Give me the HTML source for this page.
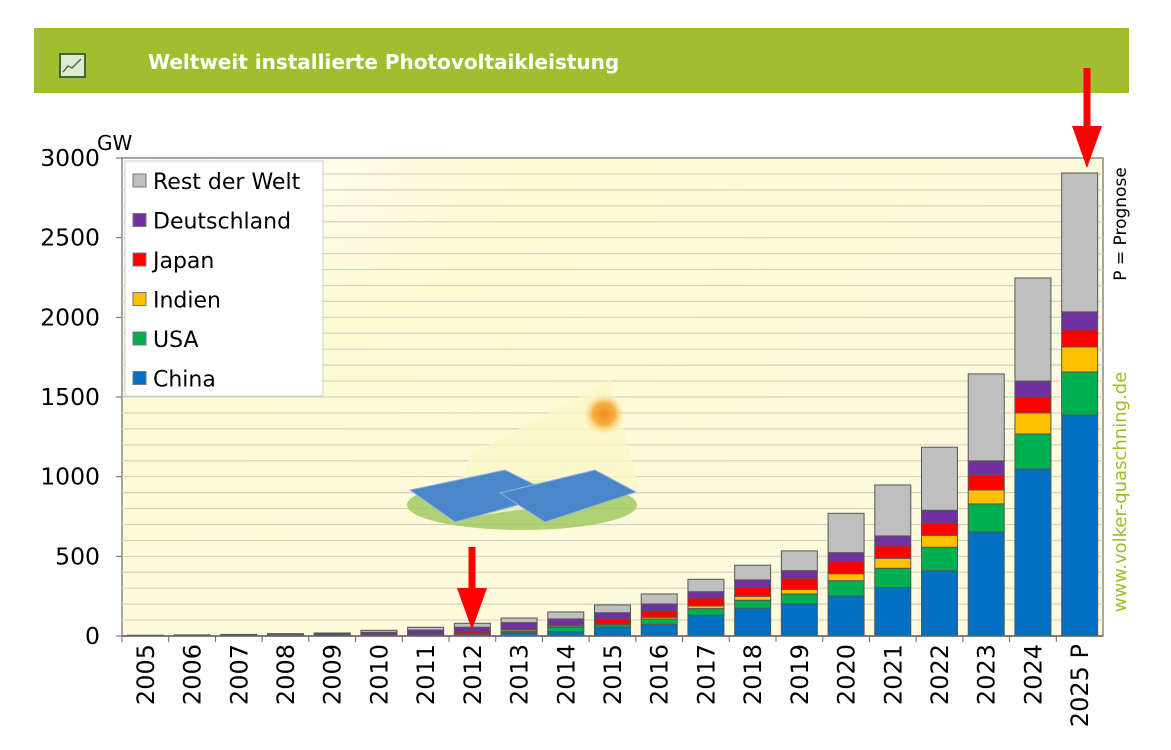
<!DOCTYPE html>
<html><head><meta charset="utf-8"><style>
body{margin:0;background:#fff;width:1171px;height:750px;overflow:hidden;font-family:"DejaVu Sans","Liberation Sans",sans-serif}
#hdr{position:absolute;left:34px;top:28px;width:1095px;height:65px;background:#a3bd31}
#hdr .t{position:absolute;left:114px;top:22px;color:#fff;font-weight:bold;font-size:20px}
#hdr .ic{position:absolute;left:25px;top:25px;width:23px;height:21px;border:2px solid #3b6b2b;background:#dfead0}
</style></head><body>
<div id="hdr">
<div class="ic"><svg width="23" height="21"><polyline points="2,17 7,11 11,13 20,4" fill="none" stroke="#4a7a3a" stroke-width="1.5"/></svg></div>
<div class="t">Weltweit installierte Photovoltaikleistung</div>
</div>
<svg id="chart" width="1171" height="750" style="position:absolute;left:0;top:0;font-family:'DejaVu Sans','Liberation Sans',sans-serif">
<defs>
<radialGradient id="bg" cx="0" cy="0" r="1.2">
<stop offset="0" stop-color="#ffffff"/><stop offset="0.35" stop-color="#fdfbd2"/><stop offset="1" stop-color="#fefbe0"/></radialGradient>
<radialGradient id="sun"><stop offset="0" stop-color="#f08a20"/><stop offset="0.5" stop-color="#f6b040"/><stop offset="1" stop-color="#fff4c0" stop-opacity="0"/></radialGradient>
</defs>
<g id="plot"></g>
</svg>
<script>
const years=["2005","2006","2007","2008","2009","2010","2011","2012","2013","2014","2015","2016","2017","2018","2019","2020","2021","2022","2023","2024","2025 P"];
const china=[0,0,0,0,1,1,3,8,23,28,55,73,130,175,203,251,305,410,653,1048,1387];
const usa=[0,0,0,0,1,2,3,4,8,27,14,34,42,49,61,96,120,147,176,220,270];
const indien=[0,0,0,0,0,0,1,1,9,8,4,11,17,25,29,44,63,75,88,132,157];
const japan=[1,1,2,2,3,4,6,12,4,6,33,41,50,57,70,76,77,76,94,100,107];
const deutschland=[2,3,4,6,10,16,24,30,40,38,40,42,39,46,47,56,63,81,88,100,113];
const rest=[2,3,4,7,4,13,18,25,29,44,49,63,78,92,124,247,320,396,546,647,872];
const yTicks=[0,500,1000,1500,2000,2500,3000];
const series=[["China",china,"#0070c0"],["USA",usa,"#00b050"],["Indien",indien,"#ffc000"],["Japan",japan,"#ff0000"],["Deutschland",deutschland,"#7030a0"],["Rest der Welt",rest,"#bfbfbf"]];
const NS="http://www.w3.org/2000/svg";
const L=122,R=1103,T=158,B=636,YMAX=3000;
const y=v=>B-v*(B-T)/YMAX;
const band=(R-L)/years.length;
const xc=i=>L+band*(i+0.5);
const g=document.getElementById('plot');
function mk(tag,a,p){const e=document.createElementNS(NS,tag);for(const k in a)e.setAttribute(k,a[k]);(p||g).appendChild(e);return e;}
let e=mk('rect',{x:L,y:T,width:R-L,height:B-T,fill:'url(#bg)',stroke:'#888','stroke-width':1.5});

for(let v=100;v<YMAX;v+=100){e=mk('line',{x1:L,x2:R,y1:y(v),y2:y(v),stroke:'#d4d2c0','stroke-width':1.2});
}
e=mk('ellipse',{cx:522,cy:505,rx:115,ry:25,fill:'#9cc85a',opacity:0.8});
e=mk('polygon',{points:'450,520 640,492 610,380 470,455',fill:'#fbf7c8',opacity:0.8});
e=mk('circle',{cx:604,cy:414,r:22,fill:'url(#sun)'});
e=mk('polygon',{points:'410,490 505,470 555,495 455,522',fill:'#4a86c8',stroke:'#8ab4e0'});
e=mk('polygon',{points:'500,493 595,470 636,492 545,522',fill:'#4a86c8',stroke:'#8ab4e0'});
const bw=36;
years.forEach((yr,i)=>{let cum=0;series.forEach(s=>{const v=s[1][i];if(v>0){
const r=mk('rect',{x:xc(i)-bw/2,y:y(cum+v),width:bw,height:y(cum)-y(cum+v),fill:s[2],stroke:'#555','stroke-width':1});

}cum+=v;});});
e=mk('line',{x1:L,x2:R,y1:B,y2:B,stroke:'#666','stroke-width':1.5});
yTicks.forEach(v=>{const t=mk('text',{x:100,y:y(v)+8,'text-anchor':'end','font-size':23.5,fill:'#000'});t.textContent=v;

const tk=mk('line',{x1:L-6,x2:L,y1:y(v),y2:y(v),stroke:'#666'});});
years.forEach((yr,i)=>{const tk=mk('line',{x1:L+band*i,x2:L+band*i,y1:B,y2:B+6,stroke:'#666'});
const t=mk('text',{x:0,y:0,'text-anchor':'end','font-size':24,fill:'#000',transform:`translate(${xc(i)+8.5},${644}) rotate(-90)`});t.textContent=yr;
});
e=mk('text',{x:97,y:150,'font-size':20});e.textContent='GW';
e=mk('rect',{x:125,y:161,width:198,height:235,fill:'#fff',stroke:'#ccc'});
series.slice().reverse().forEach((s,k)=>{const yy=181+k*39.5;
const sw=mk('rect',{x:133,y:yy-7,width:13,height:13,fill:s[2],stroke:'#777'});
const t=mk('text',{x:153,y:yy+8,'font-size':22});t.textContent=s[0];});
e=mk('text',{x:0,y:0,'font-size':17,'text-anchor':'middle',transform:'translate(1126,224) rotate(-90)'});e.textContent='P = Prognose';
e=mk('text',{x:0,y:0,'font-size':18,fill:'#9cbd2a','text-anchor':'middle',transform:'translate(1126,492) rotate(-90)'});e.textContent='www.volker-quaschning.de';
function arrow(x,y1,y2,name){const a=mk('g',{});
mk('rect',{x:x-3.5,y:y1,width:7,height:y2-y1-40,fill:'#f00'},a);
mk('polygon',{points:`${x-15},${y2-42} ${x+15},${y2-42} ${x},${y2}`,fill:'#f00'},a);}
arrow(472,547,630,'arrow-2012');
arrow(1087,68,168,'arrow-2025');
</script>
</body></html>
